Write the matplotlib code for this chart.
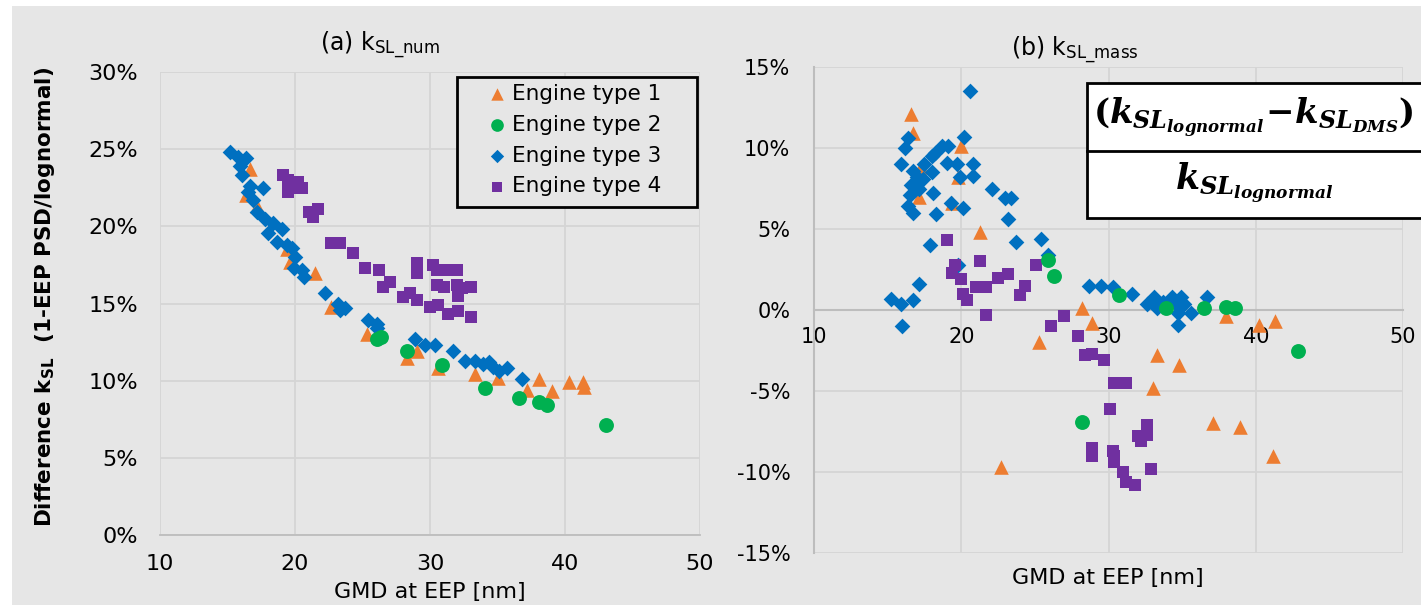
import matplotlib
matplotlib.use('Agg')
import matplotlib.pyplot as plt
from matplotlib.patches import Rectangle
from matplotlib.lines import Line2D

# Data (GMD in nm, difference in %)
# ________________________________

num_e1_x = [16.7, 16.4, 17.2, 19.4, 19.6, 21.5, 22.7, 25.3, 28.3, 29.0, 30.6, 33.3, 35.0, 37.2, 38.1, 39.0, 40.3, 41.3, 41.4]
num_e1_y = [23.7, 22.0, 21.3, 18.5, 17.7, 17.0, 14.8, 13.0, 11.5, 11.9, 10.8, 10.4, 10.2, 9.4, 10.1, 9.3, 9.9, 9.9, 9.6]

num_e2_x = [26.1, 26.4, 28.3, 30.9, 34.1, 36.6, 38.1, 38.7, 43.0]
num_e2_y = [12.7, 12.8, 11.9, 11.0, 9.5, 8.9, 8.6, 8.4, 7.1]

num_e3_x = [15.2, 15.8, 16.4, 15.9, 16.1, 16.7, 17.6, 16.5, 16.9, 17.2, 17.8, 18.4, 18.0, 19.0, 18.7, 19.4, 19.8, 20.0, 19.9, 20.5,
            20.7, 22.2, 23.2, 23.7, 23.3, 25.4, 26.1, 26.1, 28.9, 29.6, 30.4, 31.7, 32.6, 33.3, 33.9, 34.4, 34.7, 35.1, 35.7, 36.8]
num_e3_y = [24.8, 24.5, 24.4, 23.9, 23.3, 22.6, 22.5, 22.2, 21.7, 20.9, 20.5, 20.2, 19.6, 19.8, 19.0, 18.8, 18.6, 18.0, 17.3, 17.2,
            16.7, 15.7, 15.0, 14.7, 14.6, 13.9, 13.7, 13.4, 12.7, 12.3, 12.3, 11.9, 11.3, 11.3, 11.1, 11.2, 10.9, 10.6, 10.8, 10.1]

num_e4_x = [19.1, 19.5, 19.6, 20.2, 20.5, 19.5, 21.0, 21.7, 21.3, 22.7, 23.3, 24.3, 25.2, 26.2, 26.5, 27.0, 28.0, 28.5, 29.0,
            29.0, 29.0, 29.0, 30.2, 30.5, 30.5, 31.3, 31.0, 30.0, 30.6, 31.3, 32.0, 32.0, 32.4, 33.0, 32.1, 32.1, 33.0]
num_e4_y = [23.3, 23.0, 22.5, 22.9, 22.5, 22.2, 20.9, 21.1, 20.6, 18.9, 18.9, 18.3, 17.3, 17.2, 16.1, 16.4, 15.4, 15.7, 15.2,
            17.6, 17.0, 17.3, 17.5, 17.2, 16.2, 17.2, 16.1, 14.8, 14.9, 14.3, 17.2, 16.2, 16.0, 16.1, 15.5, 14.5, 14.1]

mass_e1_x = [16.6, 16.7, 20.0, 17.3, 19.8, 17.1, 19.4, 21.3, 28.2, 28.9, 25.3, 22.7, 38.0, 40.2, 41.3, 33.3, 34.8, 33.0, 37.1, 38.9, 41.2]
mass_e1_y = [12.1, 10.9, 10.1, 8.8, 8.2, 7.0, 6.6, 4.8, 0.1, -0.8, -2.0, -9.7, -0.4, -0.9, -0.7, -2.8, -3.4, -4.8, -7.0, -7.2, -9.0]

mass_e2_x = [25.9, 26.3, 28.2, 30.7, 33.9, 36.5, 38.0, 38.6, 42.9]
mass_e2_y = [3.1, 2.1, -6.9, 0.9, 0.1, 0.1, 0.2, 0.1, -2.5]

mass_e3_x = [20.6, 16.4, 16.2, 20.2, 18.7, 19.1, 18.2, 18.0, 15.9, 17.5, 19.0, 19.7, 20.8, 16.7, 18.0, 17.0, 17.4, 20.8, 19.9, 16.6,
             17.1, 22.1, 23.0, 23.4, 16.5, 18.1, 19.3, 20.1, 18.3, 16.4, 16.7, 23.2, 23.7, 25.4, 17.9, 19.8, 17.1, 15.2, 15.9, 16.7,
             25.9, 16.0, 28.7, 29.5, 30.3, 31.6, 32.6, 33.1, 33.3, 33.7, 34.3, 34.6, 34.9, 35.1, 34.7, 34.7, 35.6, 36.7]
mass_e3_y = [13.5, 10.6, 10.0, 10.7, 10.1, 10.1, 9.7, 9.5, 9.0, 9.0, 9.1, 9.0, 9.0, 8.6, 8.5, 8.2, 8.1, 8.3, 8.2, 7.7,
             7.5, 7.5, 6.9, 6.9, 7.1, 7.2, 6.6, 6.3, 5.9, 6.4, 6.0, 5.6, 4.2, 4.4, 4.0, 2.8, 1.6, 0.7, 0.4, 0.6,
             3.4, -1.0, 1.5, 1.5, 1.4, 1.0, 0.4, 0.8, 0.1, 0.5, 0.8, 0.4, 0.8, 0.4, -0.2, -0.9, -0.2, 0.8]

mass_e4_x = [19.0, 21.3, 19.6, 19.4, 20.0, 21.0, 21.7, 22.5, 23.2, 24.3, 25.1, 24.0, 20.1, 20.4, 21.7, 27.0, 26.1, 27.9, 28.4,
             28.9, 29.7, 30.4, 31.2, 30.1, 32.6, 32.6, 32.0, 32.2, 28.9, 28.9, 30.3, 30.4, 30.4, 31.0, 31.2, 31.8, 32.9]
mass_e4_y = [4.3, 3.0, 2.8, 2.3, 1.9, 1.4, 1.4, 2.0, 2.2, 1.5, 2.8, 0.9, 1.0, 0.6, -0.3, -0.4, -1.0, -1.6, -2.8,
             -2.7, -3.1, -4.5, -4.5, -6.1, -7.1, -7.7, -7.8, -8.1, -8.5, -9.0, -8.7, -9.0, -9.4, -10.0, -10.6, -10.8, -9.8]

labels = ["Engine type 1", "Engine type 2", "Engine type 3", "Engine type 4"]
colors = ["#ED7D31", "#00B050", "#0070C0", "#7030A0"]
markers = ["^", "o", "D", "s"]
sizes = [110, 115, 64, 64]
zorders = [3, 6, 4, 5]

xticks = [10, 20, 30, 40, 50]
num_yticks = [0, 5, 10, 15, 20, 25, 30]
mass_yticks = [-15, -10, -5, 0, 5, 10, 15]

BG = "#e6e6e6"
GRID = "#d5d5d5"
AXIS = "#bdbdbd"
FONT = "DejaVu Sans"

plt.rcParams['mathtext.fontset'] = 'custom'
plt.rcParams['mathtext.rm'] = 'DejaVu Serif:bold'
plt.rcParams['mathtext.it'] = 'DejaVu Serif:italic:bold'
plt.rcParams['mathtext.bf'] = 'DejaVu Sans:bold'
plt.rcParams['mathtext.sf'] = 'DejaVu Sans'

W, H = 1421, 605
fig = plt.figure(figsize=(W / 100, H / 100), dpi=100, facecolor="white")
fig.patches.append(Rectangle((12 / W, 0), 1, 1 - 6 / H, transform=fig.transFigure,
                             facecolor=BG, edgecolor="none", zorder=-10))

def px(x0, y0, x1, y1):
    return [x0 / W, 1 - y1 / H, (x1 - x0) / W, (y1 - y0) / H]

ax1 = fig.add_axes(px(160, 72, 700, 535))
ax2 = fig.add_axes(px(814, 67, 1403, 553))
# x axis of (b) crosses at 0 -> set before styling ticks (this resets them)
ax2.spines['bottom'].set_position(('data', 0))

num_sets = [(num_e1_x, num_e1_y), (num_e2_x, num_e2_y), (num_e3_x, num_e3_y), (num_e4_x, num_e4_y)]
mass_sets = [(mass_e1_x, mass_e1_y), (mass_e2_x, mass_e2_y), (mass_e3_x, mass_e3_y), (mass_e4_x, mass_e4_y)]

for ax, sets in [(ax1, num_sets), (ax2, mass_sets)]:
    ax.set_facecolor(BG)
    for i, (xs, ys) in enumerate(sets):
        ax.scatter(xs, ys, marker=markers[i], s=sizes[i], c=colors[i], linewidths=0,
                   zorder=zorders[i], label=labels[i])
    ax.set_xlim(10, 50)
    ax.set_xticks(xticks)
    ax.grid(True, color=GRID, linewidth=1.3, zorder=0)
    ax.set_axisbelow(True)
    ax.tick_params(length=0)
    for s in ax.spines.values():
        s.set_visible(False)

# (a) number based
ax1.set_ylim(0, 30)
ax1.set_yticks(num_yticks)
ax1.set_yticklabels([f"{v}%" for v in num_yticks], fontfamily=FONT, fontsize=16)
ax1.set_xticklabels([str(v) for v in xticks], fontfamily=FONT, fontsize=16)
ax1.tick_params(axis='y', pad=16)
ax1.tick_params(axis='x', pad=14)
ax1.spines['bottom'].set_visible(True)
ax1.spines['bottom'].set_color(AXIS)
ax1.spines['bottom'].set_linewidth(1.3)

# legend: entries placed freely, frame drawn as its own box inside ax1
ax1.add_patch(Rectangle((457 / W, 1 - 207 / H), 240 / W, 130 / H, transform=fig.transFigure,
                        facecolor=BG, edgecolor="black", linewidth=2, zorder=8, clip_on=False))
leg = ax1.legend(loc='upper left', bbox_to_anchor=(486 / W, 1 - 84 / H), bbox_transform=fig.transFigure,
                 borderaxespad=0, borderpad=0, frameon=False,
                 prop={'family': FONT, 'size': 15.5}, handletextpad=0.2,
                 labelspacing=0.5, handlelength=1.0, markerscale=0.85)
leg.set_zorder(9)

fig.text(380 / W, 1 - 45 / H, r"(a) $\mathsf{k}_{\mathsf{SL\_num}}$", fontfamily=FONT,
         fontsize=17, ha='center', va='center')
fig.text(430 / W, 1 - 592 / H, "GMD at EEP [nm]", fontfamily=FONT, fontsize=16,
         ha='center', va='center')
fig.text(45 / W, 1 - 297 / H, r"Difference $\mathbf{k}_{\mathbf{SL}}$  (1-EEP PSD/lognormal)",
         fontfamily=FONT, fontweight='bold', fontsize=15.5, rotation=90, ha='center', va='center')

# (b) mass based
ax2.set_ylim(-15, 15)
ax2.set_yticks(mass_yticks)
ax2.set_yticklabels([f"{v}%" for v in mass_yticks], fontfamily=FONT, fontsize=15)
ax2.set_xticklabels([str(v) for v in xticks], fontfamily=FONT, fontsize=15)
ax2.tick_params(axis='y', pad=17)
ax2.tick_params(axis='x', pad=12)
ax2.spines['bottom'].set_visible(True)
ax2.spines['bottom'].set_color(AXIS)
ax2.spines['bottom'].set_linewidth(1.5)
ax2.spines['left'].set_visible(True)
ax2.spines['left'].set_color(AXIS)
ax2.spines['left'].set_linewidth(1.5)

fig.text(1075 / W, 1 - 50 / H, r"(b) $\mathsf{k}_{\mathsf{SL\_mass}}$", fontfamily=FONT,
         fontsize=17, ha='center', va='center')
fig.text(1108 / W, 1 - 578 / H, "GMD at EEP [nm]", fontfamily=FONT, fontsize=16,
         ha='center', va='center')

# formula box
fig.patches.append(Rectangle((1087 / W, 1 - 218 / H), 0.5, (218 - 83) / H, transform=fig.transFigure,
                             facecolor="white", edgecolor="black", linewidth=2, zorder=20))
fig.lines.append(Line2D([1087 / W, 1], [1 - 151 / H, 1 - 151 / H], transform=fig.transFigure,
                        color="black", linewidth=2, zorder=21))
fig.text(1253 / W, 1 - 117 / H, r"$(k_{SL_{lognormal}}\!-\!k_{SL_{DMS}})$", fontsize=24.5,
         ha='center', va='center', zorder=22)
fig.text(1254 / W, 1 - 183 / H, r"$k_{SL_{lognormal}}$", fontsize=25,
         ha='center', va='center', zorder=22)

fig.savefig("out.png", dpi=100, facecolor=fig.get_facecolor())
